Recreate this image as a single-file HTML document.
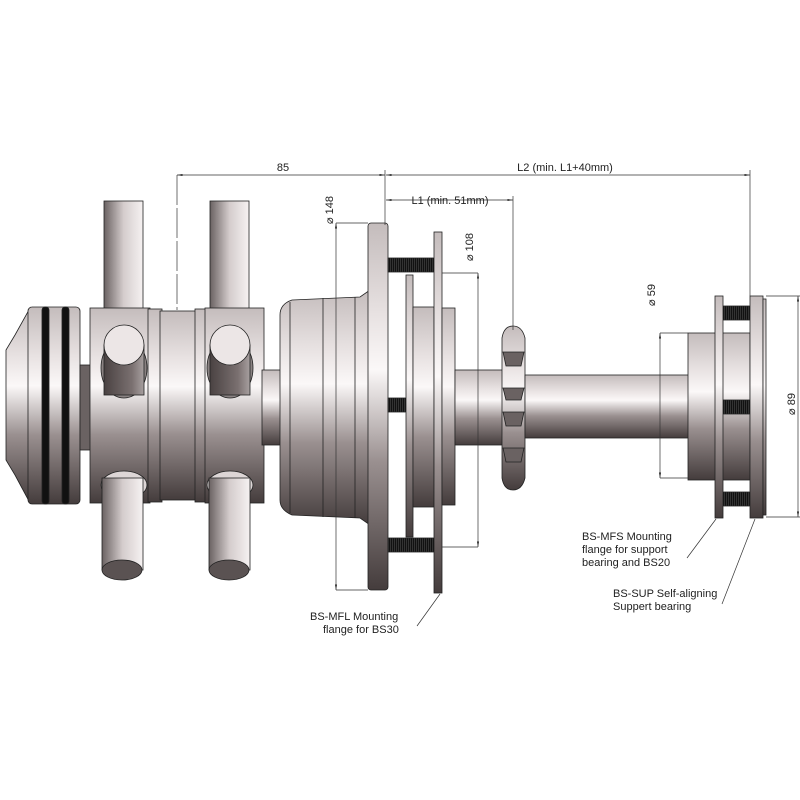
<!DOCTYPE html>
<html><head><meta charset="utf-8"><style>
html,body{margin:0;padding:0;background:#fff;}
svg{display:block;}
text{font-family:"Liberation Sans",sans-serif;font-size:11px;fill:#222;}
</style></head><body>
<svg width="800" height="800" viewBox="0 0 800 800" xmlns="http://www.w3.org/2000/svg">
<defs>
<linearGradient id="v" x1="0" y1="0" x2="0" y2="1">
<stop offset="0" stop-color="#c4bcbc"/><stop offset="0.25" stop-color="#e8e2e2"/><stop offset="0.4" stop-color="#fbf8f8"/><stop offset="0.65" stop-color="#9a9090"/><stop offset="1" stop-color="#443c3c"/>
</linearGradient>
<linearGradient id="h" x1="0" y1="0" x2="1" y2="0">
<stop offset="0" stop-color="#6a6262"/><stop offset="0.5" stop-color="#d4cccc"/><stop offset="1" stop-color="#f6f2f2"/>
</linearGradient>
<linearGradient id="hd" x1="0" y1="0" x2="1" y2="0">
<stop offset="0" stop-color="#4a4242"/><stop offset="0.7" stop-color="#7a7070"/><stop offset="1" stop-color="#a8a0a0"/>
</linearGradient>
<pattern id="th" width="2" height="4" patternUnits="userSpaceOnUse"><rect width="2" height="4" fill="#111"/><rect width="1" height="4" fill="#333"/></pattern>
<marker id="a" markerWidth="8" markerHeight="6" refX="8" refY="3" orient="auto"><path d="M0,1.5L8,3L0,4.5z" fill="#222"/></marker>
</defs>
<g stroke="#222" stroke-width="0.8">
<rect x="104" y="201" width="39" height="110" fill="url(#h)"/>
<rect x="210" y="201" width="39" height="110" fill="url(#h)"/>
<path d="M30,308 L30,503 L15,475 L6,460 L6,350 L15,335 Z" fill="url(#v)"/>
<rect x="28" y="307" width="52" height="197" rx="4" fill="url(#v)"/>
<rect x="42" y="307" width="7" height="197" rx="3" fill="#111"/>
<rect x="62" y="307" width="7" height="197" rx="3" fill="#111"/>
<rect x="80" y="365" width="12" height="85" fill="#6a6262"/>
<rect x="90" y="308" width="60" height="195" fill="url(#v)"/>
<rect x="148" y="309" width="14" height="193" fill="url(#v)"/>
<rect x="160" y="311" width="37" height="189" fill="url(#v)"/>
<rect x="195" y="309" width="12" height="193" fill="url(#v)"/>
<rect x="205" y="308" width="59" height="195" fill="url(#v)"/>
<ellipse cx="124" cy="368" rx="23" ry="30" fill="#8a8282"/>
<rect x="104" y="345" width="40" height="50" fill="url(#hd)"/>
<ellipse cx="124" cy="345" rx="20" ry="20" fill="#ece6e6"/>
<ellipse cx="230" cy="368" rx="23" ry="30" fill="#8a8282"/>
<rect x="210" y="345" width="40" height="50" fill="url(#hd)"/>
<ellipse cx="230" cy="345" rx="20" ry="20" fill="#ece6e6"/>
<ellipse cx="124" cy="485" rx="23" ry="14" fill="#ddd6d6"/>
<rect x="102" y="478" width="41" height="92" fill="url(#h)"/>
<ellipse cx="122" cy="570" rx="20" ry="10" fill="#5a5252"/>
<ellipse cx="230" cy="485" rx="23" ry="14" fill="#ddd6d6"/>
<rect x="209" y="478" width="41" height="92" fill="url(#h)"/>
<ellipse cx="229" cy="570" rx="20" ry="10" fill="#5a5252"/>
<rect x="262" y="370" width="20" height="75" fill="url(#v)"/>
<path d="M292,300 L360,297 L370,290 L370,525 L360,518 L292,515 Q280,510 280,500 L280,315 Q280,304 292,300Z" fill="url(#v)"/>
<line x1="290" y1="302" x2="290" y2="513"/><line x1="323" y1="298" x2="323" y2="517"/><line x1="355" y1="297" x2="355" y2="518"/>
<rect x="368" y="223" width="20" height="367" rx="3" fill="url(#v)"/>
<rect x="388" y="258" width="46" height="14" fill="url(#th)"/>
<rect x="388" y="398" width="46" height="14" fill="url(#th)"/>
<rect x="388" y="538" width="46" height="14" fill="url(#th)"/>
<rect x="406" y="275" width="7" height="262" fill="url(#v)"/>
<rect x="413" y="307" width="21" height="200" fill="url(#v)"/>
<rect x="434" y="232" width="8" height="361" fill="url(#v)"/>
<rect x="442" y="308" width="13" height="197" fill="url(#v)"/>
<rect x="455" y="370" width="48" height="75" fill="url(#v)"/>
<path d="M502,338 Q504,326 513,326 Q522,326 525,338 L525,478 Q522,490 513,490 Q504,490 502,478Z" fill="url(#v)"/>
<path d="M503,352 L524,352 L521,366 L506,366Z M503,388 L524,388 L521,400 L506,400Z M503,412 L524,412 L521,426 L506,426Z M503,448 L524,448 L521,462 L506,462Z" fill="#6a6262"/>
<rect x="525" y="375" width="165" height="63" fill="url(#v)"/>
<rect x="688" y="333" width="62" height="147" fill="url(#v)"/>
<rect x="723" y="306" width="27" height="14" fill="url(#th)"/>
<rect x="723" y="400" width="27" height="14" fill="url(#th)"/>
<rect x="723" y="492" width="27" height="14" fill="url(#th)"/>
<rect x="715" y="296" width="8" height="222" fill="url(#v)"/>
<rect x="750" y="296" width="13" height="222" fill="url(#v)"/>
<rect x="763" y="299" width="3" height="216" fill="url(#v)"/>
</g>
<g stroke="#333" stroke-width="0.7" fill="none">
<line x1="177" y1="175" x2="177" y2="310" stroke-dasharray="30,3"/>
<line x1="385" y1="170" x2="385" y2="225"/>
<line x1="513" y1="196" x2="513" y2="330"/>
<line x1="750" y1="170" x2="750" y2="296"/>
<line x1="281" y1="175" x2="177" y2="175" marker-end="url(#a)"/>
<line x1="281" y1="175" x2="385" y2="175" marker-end="url(#a)"/>
<line x1="560" y1="175" x2="386" y2="175" marker-end="url(#a)"/>
<line x1="560" y1="175" x2="750" y2="175" marker-end="url(#a)"/>
<line x1="450" y1="200" x2="386" y2="200" marker-end="url(#a)"/>
<line x1="450" y1="200" x2="513" y2="200" marker-end="url(#a)"/>
<line x1="336" y1="406" x2="336" y2="223" marker-end="url(#a)"/>
<line x1="336" y1="406" x2="336" y2="590" marker-end="url(#a)"/>
<line x1="336" y1="223" x2="368" y2="223"/><line x1="336" y1="590" x2="368" y2="590"/>
<line x1="478" y1="410" x2="478" y2="273" marker-end="url(#a)"/>
<line x1="478" y1="410" x2="478" y2="547" marker-end="url(#a)"/>
<line x1="442" y1="273" x2="478" y2="273"/><line x1="442" y1="547" x2="478" y2="547"/>
<line x1="660" y1="405" x2="660" y2="333" marker-end="url(#a)"/>
<line x1="660" y1="405" x2="660" y2="478" marker-end="url(#a)"/>
<line x1="660" y1="333" x2="688" y2="333"/><line x1="660" y1="478" x2="688" y2="478"/>
<line x1="798" y1="406" x2="798" y2="296" marker-end="url(#a)"/>
<line x1="798" y1="406" x2="798" y2="517" marker-end="url(#a)"/>
<line x1="766" y1="296" x2="800" y2="296"/><line x1="766" y1="517" x2="800" y2="517"/>
<line x1="417" y1="626" x2="440" y2="594"/>
<line x1="687" y1="558" x2="716" y2="519"/>
<line x1="722" y1="604" x2="755" y2="519"/>
</g>
<text x="283" y="171" text-anchor="middle">85</text>
<text x="565" y="171" text-anchor="middle">L2 (min. L1+40mm)</text>
<text x="450" y="204" text-anchor="middle">L1 (min. 51mm)</text>
<text transform="translate(333,210) rotate(-90)" text-anchor="middle">⌀ 148</text>
<text transform="translate(473,247) rotate(-90)" text-anchor="middle">⌀ 108</text>
<text transform="translate(655,295) rotate(-90)" text-anchor="middle">⌀ 59</text>
<text transform="translate(795,404) rotate(-90)" text-anchor="middle">⌀ 89</text>
<text x="310" y="620">BS-MFL Mounting</text>
<text x="323" y="633">flange for BS30</text>
<text x="582" y="540">BS-MFS Mounting</text>
<text x="582" y="553">flange for support</text>
<text x="582" y="566">bearing and BS20</text>
<text x="613" y="597">BS-SUP Self-aligning</text>
<text x="613" y="610">Suppert bearing</text>
</svg>
</body></html>
